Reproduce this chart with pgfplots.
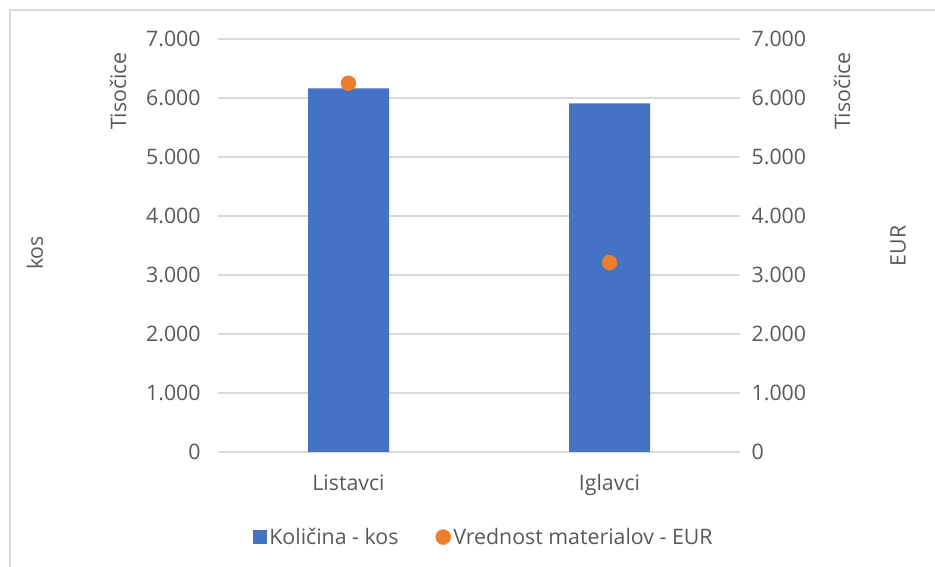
\documentclass[border=0pt]{standalone}
\usepackage{pgfplots}
\pgfplotsset{compat=1.18}
\usepackage{fontspec}
\setmainfont{Open Sans}
\definecolor{barblue}{HTML}{4472C4}
\definecolor{dotorange}{HTML}{ED7D31}
\definecolor{gridgray}{HTML}{D9D9D9}
\definecolor{txt}{HTML}{595959}
\begin{document}
\begin{tikzpicture}[font=\fontsize{16}{19}\selectfont]
\useasboundingbox (-163.5pt,-86.25pt) rectangle (537.75pt,339pt);
\draw[gridgray, line width=1.1pt] (-156pt,-86.25pt) -- (-156pt,331.5pt) -- (537.75pt,331.5pt);
\begin{axis}[
  at={(0pt,0pt)}, anchor=south west,
  scale only axis, width=391.5pt, height=309.75pt,
  xmin=-0.5, xmax=1.5, ymin=0, ymax=7000,
  ybar, bar width=60.75pt,
  xtick={0,1}, xticklabels={Listavci,Iglavci},
  ytick={0,1000,...,7000},
  axis line style={draw=none},
  major tick length=0pt, tick style={draw=none},
  ymajorgrids, grid style={gridgray, line width=0.9pt},
  /pgf/number format/.cd, 1000 sep={.}, assume math mode=true, /pgfplots/.cd,
  yticklabel style={text=txt, font=\fontsize{16}{19}\selectfont, xshift=-9.5pt},
  xticklabel style={text=txt, font=\fontsize{16}{19}\selectfont, yshift=-13.5pt},
  clip=false,
]
\addplot[fill=barblue, draw=none] coordinates {(0,6165) (1,5910)};
\end{axis}
\begin{axis}[
  at={(0pt,0pt)}, anchor=south west,
  scale only axis, width=391.5pt, height=309.75pt,
  xmin=-0.5, xmax=1.5, ymin=0, ymax=7000,
  xtick=\empty,
  ytick={0,1000,...,7000},
  yticklabel pos=right,
  axis line style={draw=none},
  major tick length=0pt, tick style={draw=none},
  /pgf/number format/.cd, 1000 sep={.}, assume math mode=true, /pgfplots/.cd,
  yticklabel style={text=txt, font=\fontsize{16}{19}\selectfont, xshift=5.2pt},
  clip=false,
  legend columns=2,
  legend style={at={(0.51,-0.206)}, anchor=center, draw=none, fill=none,
    text=txt, font=\fontsize{16}{19}\selectfont,
    /tikz/every even column/.append style={column sep=26pt}},
  legend cell align=left,
]
\addlegendimage{legend image code/.code={\fill[barblue] (0pt,-4.9pt) rectangle (9.8pt,4.9pt);}}
\addlegendentry{Količina - kos}
\addplot[only marks, mark=*, mark size=5.6pt, color=dotorange] coordinates {(0,6250) (1,3210)};
\addlegendentry{Vrednost materialov - EUR}
\end{axis}
\node[rotate=90, text=txt] at (-75pt,270.75pt) {Tisočice};
\node[rotate=90, text=txt] at (-137.25pt,149.25pt) {kos};
\node[rotate=90, text=txt] at (468pt,270.75pt) {Tisočice};
\node[rotate=90, text=txt] at (510pt,154.5pt) {EUR};
\end{tikzpicture}
\end{document}
